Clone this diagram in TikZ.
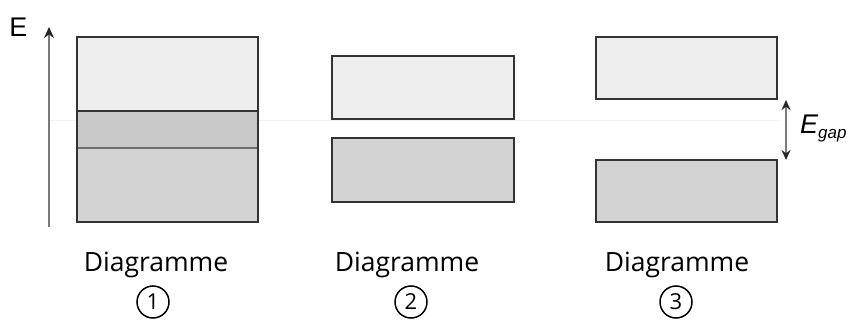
\documentclass[tikz,border=0pt]{standalone}
\usepackage{fontspec}
\setmainfont{Open Sans}
\newfontfamily\arialf{Liberation Sans}
\usetikzlibrary{arrows.meta}
\definecolor{edge}{HTML}{333333}
\definecolor{upfill}{HTML}{EEEEEE}
\definecolor{lowfill}{HTML}{D3D3D3}
\definecolor{midfill}{HTML}{C9C9C9}
\definecolor{axis}{HTML}{7A7A7A}
\tikzset{
  band/.style={draw=edge, line width=2.3pt},
  upband/.style={band, fill=upfill},
  lowband/.style={band, fill=lowfill},
  axisarrow/.style={draw=axis, line width=2.2pt, -{Stealth[length=11pt,width=10pt,color=black!85]}},
  gaparrow/.style={draw=axis, line width=2pt, {Stealth[length=10pt,width=9pt,color=black!85]}-{Stealth[length=10pt,width=9pt,color=black!85]}},
  lbl/.style={font=\fontsize{26.5}{30}\selectfont, inner sep=0pt, anchor=base},
  numc/.style={circle, draw=black, line width=1.5pt, minimum size=32pt, inner sep=0pt, font=\fontsize{22}{24}\selectfont}
}
\begin{document}
\begin{tikzpicture}[x=1pt,y=-1pt]
\useasboundingbox (0,0) rectangle (853,320);
% faint reference line
\draw[black!5, line width=1pt] (50,121) -- (780,121);
% Diagram 1
\path[fill=upfill] (77,37) rectangle (258,111);
\path[fill=midfill] (77,111) rectangle (258,148);
\path[fill=lowfill] (77,148) rectangle (258,222);
\draw[edge!70, line width=1.8pt] (77,148) -- (258,148);
\draw[band] (77,111) -- (258,111);
\node[draw=edge, line width=2.3pt, minimum width=181pt, minimum height=185pt, inner sep=0pt] (b1) at (167.5,129.5) {};
% axis
\coordinate (ab) at (49,227);
\coordinate (at) at (49,27);
\draw[axisarrow] (ab) -- (at);
\node[font=\arialf\fontsize{27}{30}\selectfont, inner sep=0pt, anchor=base] (E) at (18.5,37) {E};
% Diagram 2
\node[upband, minimum width=182pt, minimum height=63pt, inner sep=0pt] (u2) at (423,87.5) {};
\node[lowband, minimum width=182pt, minimum height=64pt, inner sep=0pt] (l2) at (423,170) {};
% Diagram 3
\node[upband, minimum width=181pt, minimum height=62pt, inner sep=0pt] (u3) at (686.5,68) {};
\node[lowband, minimum width=181pt, minimum height=62pt, inner sep=0pt] (l3) at (686.5,191) {};
% gap arrow
\coordinate (gt) at (786,100);
\coordinate (gb) at (786,160);
\draw[gaparrow] (gt) -- (gb);
\node[font=\arialf\fontsize{27}{30}\selectfont, inner sep=0pt, anchor=base west] (Eg) at (800,134) {\itshape E\raisebox{-5pt}{\fontsize{17}{19}\selectfont gap}};
% labels
\node[lbl] (d1) at (156,271) {Diagramme};
\node[lbl] (d2) at (407,271) {Diagramme};
\node[lbl] (d3) at (677,271) {Diagramme};
\node[numc] (n1) at (153,302) {1};
\node[numc] (n2) at (411,302) {2};
\node[numc] (n3) at (676,302) {3};
\end{tikzpicture}
\end{document}
